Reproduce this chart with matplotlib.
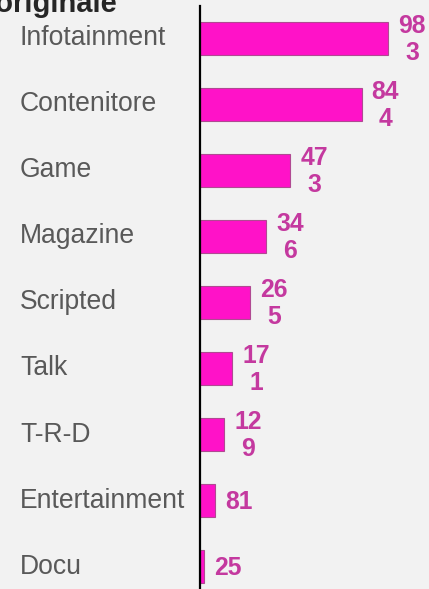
import matplotlib.pyplot as plt
import matplotlib.transforms as mtransforms

generi = ["Infotainment", "Contenitore", "Game", "Magazine", "Scripted",
          "Talk", "T-R-D", "Entertainment", "Docu"]
valori = [983, 844, 473, 346, 265, 171, 129, 81, 25]

sfondo = "#f2f2f2"
plt.rcParams["font.family"] = ["Liberation Sans", "DejaVu Sans"]

fig = plt.figure(figsize=(4.29, 5.89), dpi=100, facecolor=sfondo)
ax = fig.add_axes([199.5 / 429, 0, 229.5 / 429, 583 / 589])
ax.set_facecolor(sfondo)

pos = list(range(len(generi)))
ax.barh(pos, valori, height=0.5, color="#ff12c8", edgecolor="#b04a92", linewidth=0.8)

ax.set_xlim(0, 1194)
ax.set_ylim(8.34, -0.49)

for s in ["top", "right", "bottom"]:
    ax.spines[s].set_visible(False)
ax.spines["left"].set_color("black")
ax.spines["left"].set_linewidth(1.6)
ax.set_xticks([])
ax.set_yticks([])

# nomi dei generi allineati a sinistra nel margine
tr = mtransforms.blended_transform_factory(fig.transFigure, ax.transData)
for p, g in zip(pos, generi):
    ax.text(20 / 429, p, g, transform=tr, ha="left", va="center",
            fontsize=19.1, color="#595959", clip_on=False)

# etichette dei valori, spezzate dopo due cifre
for p, v in zip(pos, valori):
    s = str(v)
    if len(s) > 2:
        s = s[:2] + "\n" + s[2:]
    ax.annotate(s, (v, p), xytext=(7.2, -1), textcoords="offset points",
                ha="left", va="center", multialignment="center",
                fontsize=17.8, fontweight="bold", color="#c4399f",
                linespacing=1.15, annotation_clip=False)

fig.text(117 / 429, 1 - 12 / 589, "Genere originale", ha="right", va="baseline",
         fontsize=21, fontweight="bold", color="#262626")

fig.savefig("out.png", dpi=100, facecolor=sfondo)
